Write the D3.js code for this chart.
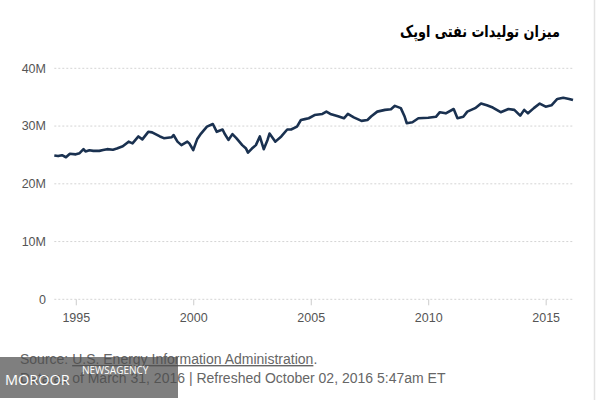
<!DOCTYPE html>
<html>
<head>
<meta charset="utf-8">
<script src="https://cdn.jsdelivr.net/npm/d3@7/dist/d3.min.js"></script>
<style>
  html, body { margin: 0; padding: 0; background: #fff; }
  svg { display: block; }
</style>
</head>
<body>
<svg id="chart" width="600" height="400"></svg>
<script>
// ---- data (OPEC oil production) ----
const months = [
  "1994-02","1994-04","1994-06","1994-08","1994-10","1995-01","1995-03","1995-05","1995-06","1995-08","1995-10",
  "1996-01","1996-03","1996-05","1996-08","1996-10","1997-01","1997-04","1997-06","1997-09","1997-11",
  "1998-02","1998-04","1998-08","1998-10","1999-02","1999-03","1999-05","1999-07",
  "1999-10","1999-11","2000-01","2000-03","2000-05","2000-08","2000-11","2001-01",
  "2001-04","2001-05","2001-07","2001-09","2001-11","2002-02","2002-04","2002-05",
  "2002-07","2002-09","2002-11","2003-01","2003-03","2003-04","2003-07","2003-10",
  "2004-01","2004-03","2004-06","2004-08","2004-10","2004-12","2005-03","2005-07",
  "2005-09","2005-11","2006-03","2006-06","2006-08","2006-11","2007-03","2007-06",
  "2007-08","2007-11","2008-03","2008-06","2008-08","2008-11","2009-01","2009-02",
  "2009-05","2009-08","2010-01","2010-05","2010-07","2010-10","2011-02","2011-04",
  "2011-07","2011-09","2012-01","2012-04","2012-07","2012-10","2013-02","2013-06",
  "2013-09","2013-12","2014-02","2014-04","2014-07","2014-10","2015-01","2015-04",
  "2015-07","2015-10","2016-01","2016-03"
];
const production = [
  24.9,24.8,24.95,24.6,25.2,25.1,25.3,26.0,25.6,25.8,25.7,
  25.7,25.85,26.0,25.9,26.1,26.5,27.3,27.0,28.2,27.7,
  29.0,28.9,28.2,27.9,28.05,28.45,27.3,26.7,
  27.3,27.0,25.85,27.7,28.7,29.9,30.35,29.0,
  29.4,28.7,27.6,28.6,27.9,26.7,26.1,25.4,
  26.1,26.7,28.2,26.0,27.6,28.7,27.3,28.2,
  29.4,29.4,29.9,31.05,31.2,31.35,31.9,32.1,
  32.5,32.1,31.7,31.35,32.1,31.5,30.9,31.05,
  31.7,32.5,32.8,32.9,33.5,33.1,31.6,30.5,
  30.65,31.35,31.45,31.6,32.4,32.2,32.95,31.35,
  31.6,32.5,33.1,33.9,33.6,33.2,32.4,32.95,
  32.8,31.8,32.8,32.2,33.1,33.9,33.35,33.6,
  34.7,34.9,34.7,34.5
].map(v => v * 1e6);
const yTicks = [0, 10e6, 20e6, 30e6, 40e6];
const yTickLabels = ["0", "10M", "20M", "30M", "40M"];
const xTickYears = [1995, 2000, 2005, 2010, 2015];
const titleText = "میزان تولیدات نفتی اوپک";
const sourceLabel = "Source: ";
const sourceLink = "U.S. Energy Information Administration";
const dataLine = "Data as of March 31, 2016 | Refreshed October 02, 2016 5:47am ET";

// ---- layout ----
const W = 600, H = 400;
const m = { left: 54.3, right: 27, top: 68.3, bottom: 100.7 };
const svg = d3.select("#chart");

const parse = d3.timeParse("%Y-%m");
const dates = months.map(parse);
const data = dates.map((d, i) => ({ date: d, value: production[i] }));

const x = d3.scaleTime()
  .domain(d3.extent(dates))
  .range([m.left, W - m.right]);
const y = d3.scaleLinear()
  .domain([0, 40e6])
  .range([H - m.bottom, m.top]);

// right border
svg.append("line")
  .attr("x1", 594.5).attr("x2", 594.5).attr("y1", 0).attr("y2", H)
  .attr("stroke", "#e3e3e3").attr("stroke-width", 1.5);

// gridlines
svg.append("g").selectAll("line").data(yTicks).join("line")
  .attr("x1", m.left).attr("x2", W - m.right)
  .attr("y1", d => y(d)).attr("y2", d => y(d))
  .attr("stroke", "#d4d4d4").attr("stroke-width", 1)
  .attr("stroke-dasharray", "2,2");

// y labels
svg.append("g").selectAll("text").data(yTicks).join("text")
  .attr("x", 46).attr("y", d => y(d)).attr("dy", "0.35em")
  .attr("text-anchor", "end")
  .attr("font-family", "Liberation Sans, Arial, sans-serif")
  .attr("font-size", 12.5).attr("fill", "#555")
  .text((d, i) => yTickLabels[i]);

// x axis
const xAxis = d3.axisBottom(x)
  .tickValues(xTickYears.map(yr => new Date(yr, 0, 1)))
  .tickFormat(d3.timeFormat("%Y"))
  .tickSize(6).tickPadding(8);
const gx = svg.append("g")
  .attr("transform", `translate(0,${y(0)})`)
  .call(xAxis);
gx.select(".domain").remove();
gx.selectAll(".tick line").attr("stroke", "#ccc");
gx.selectAll(".tick text")
  .attr("font-family", "Liberation Sans, Arial, sans-serif")
  .attr("font-size", 12.5).attr("fill", "#555");

// line
const line = d3.line()
  .x(d => x(d.date))
  .y(d => y(d.value));
svg.append("path")
  .datum(data)
  .attr("d", line)
  .attr("fill", "none")
  .attr("stroke", "#1a3150")
  .attr("stroke-width", 2.6)
  .attr("stroke-linejoin", "round");

// title
svg.append("text")
  .attr("x", 560).attr("y", 37)
  .attr("text-anchor", "end")
  .attr("font-family", "DejaVu Sans, sans-serif")
  .attr("font-weight", "bold")
  .attr("font-size", 16)
  .attr("textLength", 160)
  .attr("lengthAdjust", "spacingAndGlyphs")
  .attr("fill", "#000")
  .text(titleText);

// footer
const f1 = svg.append("text")
  .attr("x", 20).attr("y", 364)
  .attr("font-family", "Liberation Sans, Arial, sans-serif")
  .attr("font-size", 14).attr("fill", "#666");
f1.append("tspan").text(sourceLabel);
f1.append("tspan").attr("text-decoration", "underline").text(sourceLink);
f1.append("tspan").text(".");

svg.append("text")
  .attr("x", 20).attr("y", 383)
  .attr("font-family", "Liberation Sans, Arial, sans-serif")
  .attr("font-size", 14).attr("fill", "#666")
  .text(dataLine);

// watermark
svg.append("rect")
  .attr("x", 0).attr("y", 357).attr("width", 178).attr("height", 41)
  .attr("fill", "rgb(78,78,78)").attr("fill-opacity", 0.72);
svg.append("text")
  .attr("x", 5).attr("y", 385)
  .attr("font-family", "Open Sans, sans-serif")
  .attr("font-size", 14.5).attr("fill", "#fff")
  .text("MOROOR");
svg.append("text")
  .attr("x", 82).attr("y", 374)
  .attr("font-family", "Open Sans, sans-serif")
  .attr("font-size", 10).attr("fill", "#fff")
  .text("NEWSAGENCY");
</script>
</body>
</html>
